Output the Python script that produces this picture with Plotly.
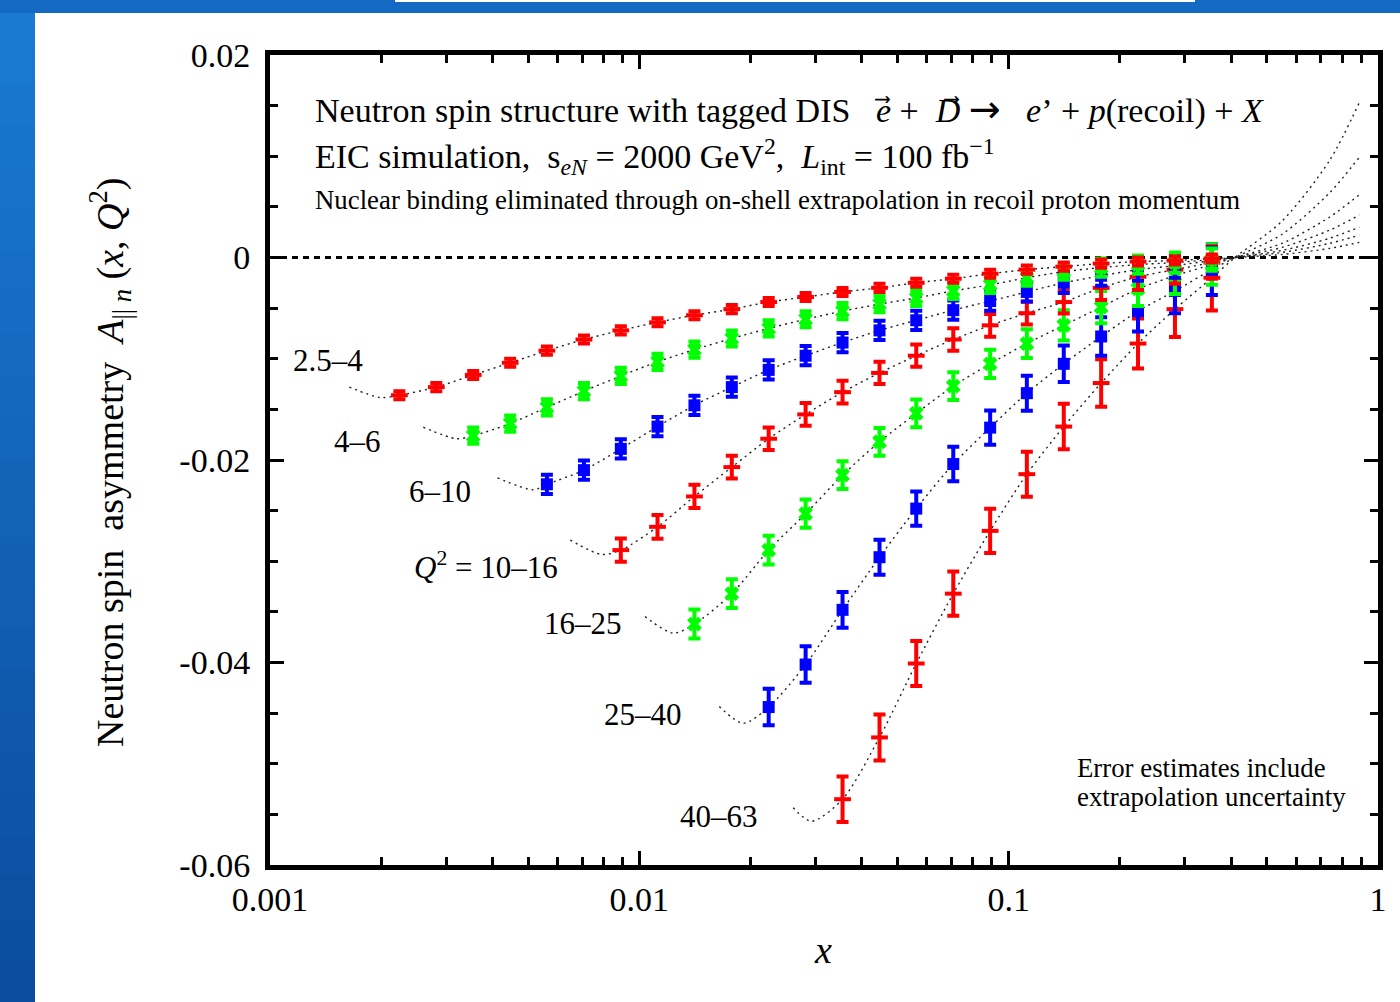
import plotly.graph_objects as go

# ---------------- data ----------------
x_grid = [0.00224, 0.00282, 0.00355, 0.00447, 0.00562, 0.00708, 0.00891, 0.0112,
          0.0141, 0.0178, 0.0224, 0.0282, 0.0355, 0.0447, 0.0562, 0.0708, 0.0891,
          0.112, 0.141, 0.178, 0.224, 0.282, 0.355]

band_labels = ["2.5–4", "4–6", "6–10", "<i>Q</i><sup>2</sup> = 10–16", "16–25", "25–40", "40–63"]
band_start = [0, 2, 4, 6, 8, 10, 12]
band_colors = ["#ff0000", "#00ff00", "#0000ff", "#ff0000", "#00ff00", "#0000ff", "#ff0000"]
band_symbols = ["line-ew", "x", "square", "line-ew", "x", "square", "line-ew"]

asym_2p5_4 = [-0.0136, -0.0128, -0.0116, -0.0104, -0.0092, -0.0081, -0.0072, -0.0064,
              -0.0057, -0.0051, -0.0044, -0.0039, -0.0034, -0.0030, -0.0025, -0.0021,
              -0.0016, -0.0012, -0.0009, -0.0006, -0.0004, -0.0003, -0.0001]
err_2p5_4 = [0.0004, 0.0004, 0.0004, 0.0004, 0.0004, 0.0004, 0.0004, 0.0004, 0.0004,
             0.0004, 0.0004, 0.0004, 0.0004, 0.0004, 0.0004, 0.0004, 0.0004, 0.0004,
             0.0004, 0.0004, 0.0004, 0.0004, 0.0004]

asym_4_6 = [-0.0176, -0.0164, -0.0148, -0.0132, -0.0117, -0.0103, -0.0091, -0.0080,
            -0.0070, -0.0061, -0.0053, -0.0046, -0.0040, -0.0033, -0.0027, -0.0020,
            -0.0014, -0.0010, -0.0007, -0.0005, -0.0002]
err_4_6 = [0.0008, 0.0008, 0.0008, 0.0008, 0.0008, 0.0008, 0.0008, 0.0008, 0.0008,
           0.0008, 0.0008, 0.0008, 0.0008, 0.0008, 0.0008, 0.0008, 0.0008, 0.0009,
           0.0009, 0.0010, 0.0011]

asym_6_10 = [-0.0224, -0.0210, -0.0189, -0.0167, -0.0146, -0.0128, -0.0111, -0.0097,
             -0.0084, -0.0072, -0.0062, -0.0052, -0.0043, -0.0034, -0.0025, -0.0018,
             -0.0012, -0.0008, -0.0003]
err_6_10 = [0.00095, 0.00095, 0.00095, 0.00095, 0.00095, 0.00095, 0.00095, 0.00095,
            0.00095, 0.00095, 0.00095, 0.00095, 0.00095, 0.00095, 0.0010, 0.0010,
            0.0011, 0.0012, 0.0013]

asym_10_16 = [-0.0289, -0.0266, -0.0236, -0.0207, -0.0179, -0.0155, -0.0133, -0.0114,
              -0.0097, -0.0081, -0.0067, -0.0055, -0.0044, -0.0030, -0.0019, -0.0012,
              -0.0005]
err_10_16 = [0.00115, 0.00117, 0.00115, 0.00112, 0.00112, 0.00112, 0.00112, 0.00110,
             0.00110, 0.00112, 0.00112, 0.00112, 0.00112, 0.0012, 0.0013, 0.0014, 0.0016]

asym_16_25 = [-0.0362, -0.0332, -0.0289, -0.0253, -0.0215, -0.0182, -0.0154, -0.0127,
              -0.0105, -0.0085, -0.0067, -0.0049, -0.0031, -0.0018, -0.0007]
err_16_25 = [0.00143, 0.00141, 0.00143, 0.00140, 0.00137, 0.00137, 0.00137, 0.00137,
             0.00140, 0.00142, 0.0015, 0.0016, 0.0017, 0.0018, 0.0020]

asym_25_40 = [-0.0444, -0.0402, -0.0348, -0.0296, -0.0248, -0.0204, -0.0168, -0.0134,
              -0.0105, -0.0078, -0.0053, -0.0033, -0.0012]
err_25_40 = [0.0018, 0.0018, 0.00177, 0.00173, 0.0017, 0.0017, 0.0017, 0.00173,
             0.0018, 0.0019, 0.0020, 0.0022, 0.0025]

asym_40_63 = [-0.0535, -0.0474, -0.0401, -0.0332, -0.0270, -0.0214, -0.0167, -0.0124,
              -0.0085, -0.0051, -0.0020]
err_40_63 = [0.00225, 0.00227, 0.00222, 0.00218, 0.00218, 0.00222, 0.00225, 0.00235,
             0.00247, 0.00275, 0.00324]

band_values = [asym_2p5_4, asym_4_6, asym_6_10, asym_10_16, asym_16_25, asym_25_40, asym_40_63]
band_errors = [err_2p5_4, err_4_6, err_6_10, err_10_16, err_16_25, err_25_40, err_40_63]

# dotted fit curves: extension points to the left of the data and to the right of it
curve_left_x = [[0.00164, 0.00199], [0.0026, 0.0032], [0.00413, 0.00516], [0.00650, 0.0079],
                [0.01036, 0.01236], [0.01646, 0.01912], [0.0261, 0.02926]]
curve_left_y = [[-0.0128, -0.01383], [-0.01676, -0.0179], [-0.02176, -0.02294],
                [-0.0279, -0.02933], [-0.03546, -0.0371], [-0.04435, -0.0460],
                [-0.05435, -0.05568]]
curve_right_x = [0.41, 0.55, 0.74, 0.89]
curve_right_y = [[0.0, 0.0003, 0.0009, 0.0015], [0.0, 0.0005, 0.0014, 0.0022],
                 [0.0, 0.0007, 0.0019, 0.0030], [0.0, 0.0010, 0.0027, 0.0042],
                 [0.0, 0.0014, 0.0040, 0.0062], [0.0, 0.0023, 0.0064, 0.0099],
                 [0.0, 0.0036, 0.0096, 0.0153]]

x_tick_vals = [0.001, 0.01, 0.1, 1]
x_tick_text = ["0.001", "0.01", "0.1", "1"]
y_tick_vals = [0.02, 0.0, -0.02, -0.04, -0.06]
y_tick_text = ["0.02", "0", "-0.02", "-0.04", "-0.06"]

# ---------------- layout geometry ----------------
W, H = 1400, 1002
L, R, T, B = 270, 22, 55, 137
PW, PH = W - L - R, H - T - B


def px_x(px):
    return (px - L) / PW


def px_y(py):
    return (H - B - py) / PH


FONT = "Liberation Serif"

fig = go.Figure()

# fit curves
for i in range(7):
    xs_data = x_grid[band_start[i]:]
    cx = curve_left_x[i] + xs_data + curve_right_x
    cy = curve_left_y[i] + band_values[i] + curve_right_y[i]
    fig.add_trace(go.Scatter(x=cx, y=cy, mode="lines",
                             line=dict(color="#222222", width=1.4, dash="2px,4px", shape="spline",
                                       smoothing=0.8),
                             hoverinfo="skip", showlegend=False))

# data with error bars
for i in reversed(range(7)):
    xs_data = x_grid[band_start[i]:]
    sym = band_symbols[i]
    if sym == "line-ew":
        marker = dict(symbol="line-ew", size=12, line=dict(color=band_colors[i], width=4),
                      color=band_colors[i])
    elif sym == "x":
        marker = dict(symbol="x", size=13, color=band_colors[i], line=dict(width=0))
    else:
        marker = dict(symbol="square", size=12, color=band_colors[i], line=dict(width=0))
    fig.add_trace(go.Scatter(x=xs_data, y=band_values[i], mode="markers", marker=marker,
                             error_y=dict(type="data", array=band_errors[i], visible=True,
                                          color=band_colors[i], thickness=4, width=6),
                             showlegend=False))

shapes = []
# blue frame of the slide (gradient approximated by bands)
n_bands = 24
c_top = (26, 122, 210)
c_bot = (12, 76, 158)
for k in range(n_bands):
    f = k / (n_bands - 1)
    col = "rgb(%d,%d,%d)" % tuple(int(c_top[j] + (c_bot[j] - c_top[j]) * f) for j in range(3))
    y0 = k * H / n_bands
    y1 = (k + 1) * H / n_bands + 1
    shapes.append(dict(type="rect", xref="paper", yref="paper", x0=px_x(0), x1=px_x(35),
                       y0=px_y(y1), y1=px_y(y0), fillcolor=col, line=dict(width=0), layer="above"))
shapes.append(dict(type="rect", xref="paper", yref="paper", x0=px_x(0), x1=px_x(1400),
                   y0=px_y(13), y1=px_y(0), fillcolor="rgb(20,106,194)", line=dict(width=0),
                   layer="above"))
shapes.append(dict(type="rect", xref="paper", yref="paper", x0=px_x(395), x1=px_x(1195),
                   y0=px_y(2), y1=px_y(0), fillcolor="white", line=dict(width=0), layer="above"))
# zero line
shapes.append(dict(type="line", xref="paper", yref="y", x0=0, x1=1, y0=0, y1=0,
                   line=dict(color="black", width=3, dash="6px,5px"), layer="below"))

annotations = []


def ann(text, px, py, size, xanchor="center", yanchor="middle", angle=0):
    annotations.append(dict(text=text, xref="paper", yref="paper", x=px_x(px), y=px_y(py),
                            xanchor=xanchor, yanchor=yanchor, showarrow=False, textangle=angle,
                            font=dict(family=FONT, size=size, color="black")))


label_pos = [(328, 360), (357, 441), (440, 491), (486, 565), (583, 624), (643, 714), (719, 816)]
for lab, (lx, ly) in zip(band_labels, label_pos):
    ann(lab, lx, ly, 31)

NB = "\u00a0"
ARROW = "<span style='font-family:DejaVu Sans;font-size:38px'>\u2192</span>"
ann("Neutron spin structure with tagged DIS" + NB * 3 + "<i>e</i>\u20d7" + NB + "+" + NB * 2 +
    "<i>D</i>\u20d7" + NB + ARROW + NB * 3 + "<i>e</i>\u2019" + NB + "+" + NB +
    "<i>p</i>(recoil)" + NB + "+" + NB + "<i>X</i>",
    313, 109, 34, xanchor="left")
ann("EIC simulation," + NB * 2 + "s<sub><i>eN</i></sub>" + NB + "=" + NB + "2000 GeV<sup>2</sup>," +
    NB * 2 + "<i>L</i><sub>int</sub>" + NB + "=" + NB + "100 fb<sup>\u22121</sup>",
    313, 157, 34, xanchor="left")
ann("Nuclear binding eliminated through on-shell extrapolation in recoil proton momentum",
    313, 200, 26.8, xanchor="left")
ann("Error estimates include", 1075, 768, 26.8, xanchor="left")
ann("extrapolation uncertainty", 1075, 797, 26.8, xanchor="left")
ann("<i>x</i>", 823, 950, 38)
ann("Neutron spin" + NB * 2 + "asymmetry" + NB * 2 +
    "<i>A</i><sub>|| <i>n</i></sub> (<i>x</i>, <i>Q</i><sup>2</sup>)", 110, 463, 38, angle=-90)

fig.update_layout(
    width=W, height=H,
    margin=dict(l=L, r=R, t=T, b=B, pad=0),
    paper_bgcolor="white", plot_bgcolor="white",
    showlegend=False,
    shapes=shapes, annotations=annotations,
    font=dict(family=FONT, color="black"),
)
fig.update_xaxes(type="log", range=[-3, 0], showgrid=False, zeroline=False,
                 showline=True, linewidth=5, linecolor="black", mirror="allticks",
                 ticks="inside", ticklen=14, tickwidth=3, tickcolor="black",
                 tickvals=x_tick_vals, ticktext=x_tick_text,
                 tickfont=dict(family=FONT, size=34, color="black"),
                 minor=dict(ticks="inside", ticklen=8, tickwidth=3, tickcolor="black",
                            dtick="D1", showgrid=False))
fig.update_yaxes(range=[-0.06, 0.02], showgrid=False, zeroline=False,
                 showline=True, linewidth=5, linecolor="black", mirror="allticks",
                 ticks="inside", ticklen=14, tickwidth=3, tickcolor="black",
                 tickvals=y_tick_vals, ticktext=y_tick_text, ticklabelstandoff=8,
                 tickfont=dict(family=FONT, size=34, color="black"),
                 minor=dict(ticks="inside", ticklen=8, tickwidth=3, tickcolor="black",
                            dtick=0.005, showgrid=False))

fig.write_html("out.html")
